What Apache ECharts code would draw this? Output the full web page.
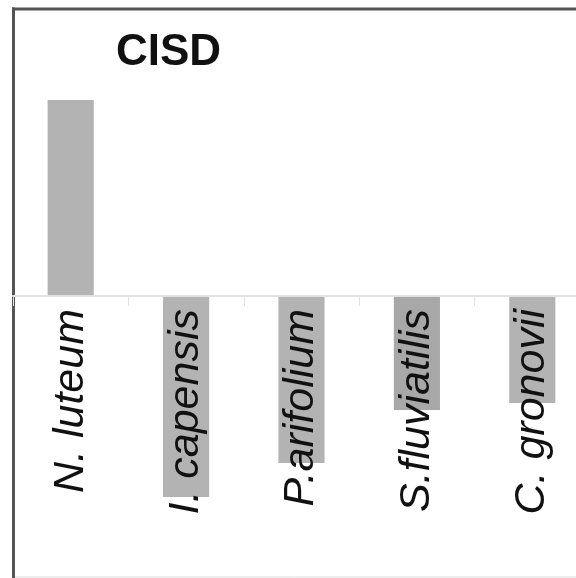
<!DOCTYPE html>
<html>
<head>
<meta charset="utf-8">
<script src="https://cdn.jsdelivr.net/npm/echarts@6/dist/echarts.min.js"></script>
<style>html,body{margin:0;padding:0;background:#fff;}#c{width:576px;height:578px;}</style>
</head>
<body>
<div id="c"></div>
<script>
const titleText = "CISD";
const categories = ["N. luteum", "I. capensis", "P.arifolium", "S.fluviatilis", "C. gronovii"];
const values = [1.96, -2.01, -1.67, -1.14, -1.07];
const barColors = ["#b3b3b3", "#b3b3b3", "#b3b3b3", "#a8a8a8", "#b3b3b3"];
const yMin = -2.81, yMax = 2.87;

const gridTop = 9, gridBottom = 1, H = 578;
const gridH = H - gridTop - gridBottom;
const zeroOffset = -(gridH * (0 - yMin) / (yMax - yMin));

const chart = echarts.init(document.getElementById('c'), null, {renderer: 'canvas'});
chart.setOption({
  animation: false,
  backgroundColor: '#fff',
  title: {
    text: titleText, left: 111, top: 26,
    textStyle: {fontFamily: 'Liberation Sans', fontWeight: 'bold', fontSize: 44, color: '#111'}
  },
  grid: {left: 13, right: -14, top: gridTop, bottom: gridBottom, containLabel: false, outerBoundsMode: 'none'},
  xAxis: {
    type: 'category', data: categories, z: 10, position: 'bottom', offset: zeroOffset,
    axisLine: {onZero: false, lineStyle: {color: '#e2e2e2', width: 2}},
    axisTick: {show: true, length: 10, lineStyle: {color: '#e2e2e2', width: 1}},
    axisLabel: {show: true, interval: 0, rotate: 90, margin: 13, fontFamily: 'Liberation Sans', fontStyle: 'italic', fontSize: 43, color: '#111'}
  },
  yAxis: {
    type: 'value', min: yMin, max: yMax,
    axisLine: {show: false}, axisTick: {show: false}, axisLabel: {show: false}, splitLine: {show: false}
  },
  series: [{
    type: 'bar', barWidth: '40%',
    data: values.map((v, i) => ({value: v, itemStyle: {color: barColors[i]}}))
  }],
  graphic: [
    {type: 'line', shape: {x1: 13, y1: 577, x2: 576, y2: 577}, style: {stroke: '#dcdcdc', lineWidth: 1}},
    {type: 'line', shape: {x1: 13.5, y1: 7.5, x2: 13.5, y2: 578}, style: {stroke: '#555', lineWidth: 3}},
    {type: 'line', shape: {x1: 12, y1: 9, x2: 576, y2: 9}, style: {stroke: '#555', lineWidth: 3}}
  ]
});
</script>
</body>
</html>
